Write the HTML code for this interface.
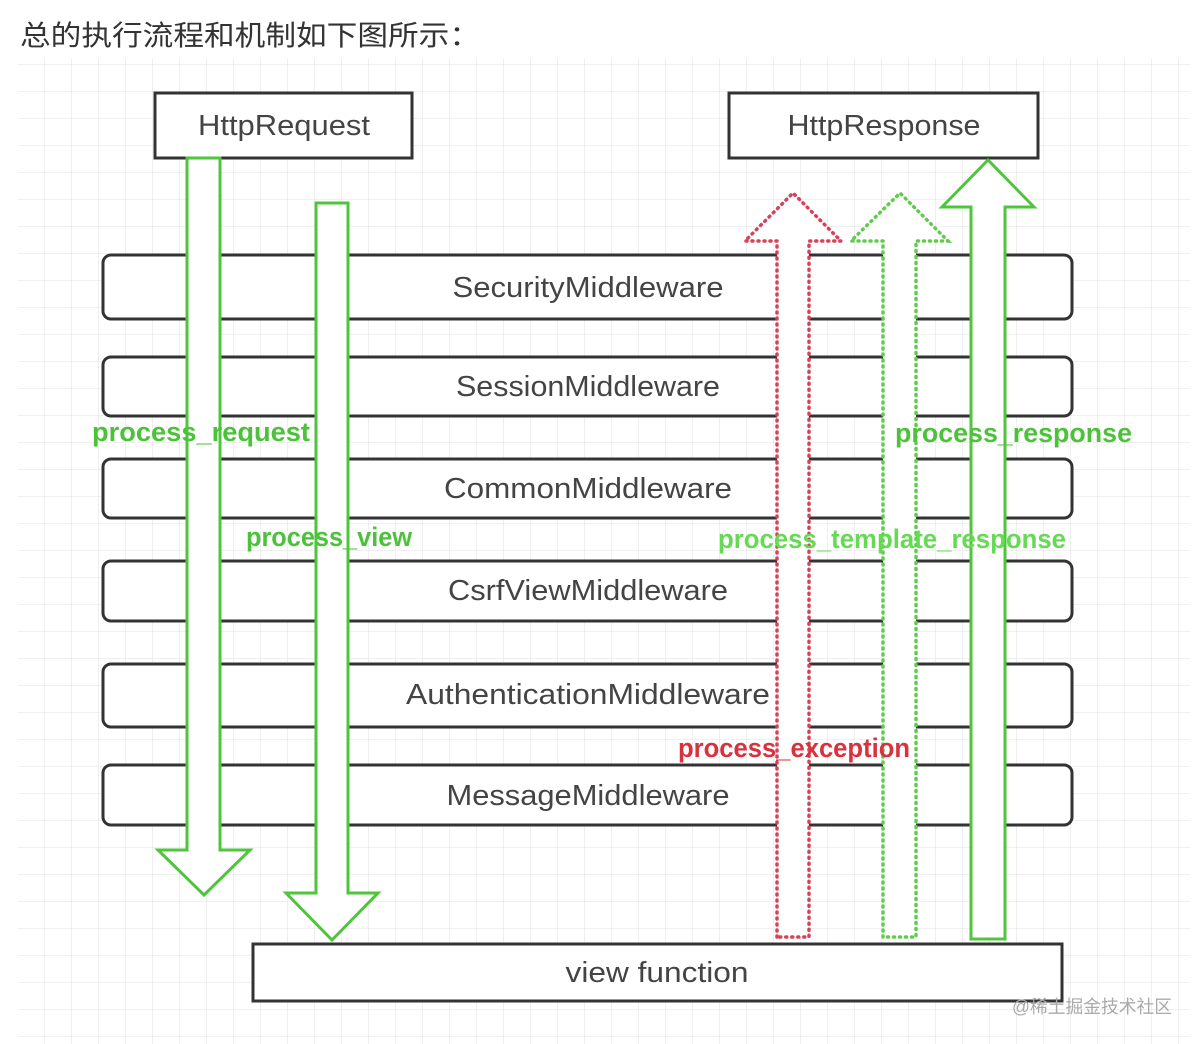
<!DOCTYPE html>
<html><head><meta charset="utf-8"><style>
html,body{margin:0;padding:0;background:#fff;width:1200px;height:1044px;overflow:hidden}
</style></head><body>
<svg width="1200" height="1044" xmlns="http://www.w3.org/2000/svg">
<defs>
<pattern id="g" x="18" y="11" width="27" height="27" patternUnits="userSpaceOnUse">
<path d="M27 0V27M0 27H27" fill="none" stroke="#e6e6e6" stroke-width="1.3"/>
</pattern>
</defs>
<rect x="18" y="58" width="1172" height="986" fill="url(#g)"/>
<text x="20" y="45" font-family="Liberation Sans, Noto Sans CJK SC, sans-serif" font-size="28" fill="#333" textLength="460" lengthAdjust="spacingAndGlyphs">总的执行流程和机制如下图所示：</text>

<g fill="#fff" stroke="#333" stroke-width="3">
<rect x="155" y="93" width="257" height="65"/>
<rect x="729" y="93" width="309" height="65"/>
<rect x="103" y="255" width="969" height="64" rx="8"/>
<rect x="103" y="357" width="969" height="59" rx="8"/>
<rect x="103" y="459" width="969" height="59" rx="8"/>
<rect x="103" y="561" width="969" height="60" rx="8"/>
<rect x="103" y="664" width="969" height="63" rx="8"/>
<rect x="103" y="765" width="969" height="60" rx="8"/>
<rect x="253" y="944" width="809" height="57"/>
</g>
<g font-family="Liberation Sans, sans-serif" font-size="29" fill="#444" text-anchor="middle" lengthAdjust="spacingAndGlyphs">
<text x="284" y="135" textLength="172" lengthAdjust="spacingAndGlyphs">HttpRequest</text>
<text x="884" y="135" textLength="193" lengthAdjust="spacingAndGlyphs">HttpResponse</text>
<text x="588" y="297" textLength="271" lengthAdjust="spacingAndGlyphs">SecurityMiddleware</text>
<text x="588" y="396" textLength="264" lengthAdjust="spacingAndGlyphs">SessionMiddleware</text>
<text x="588" y="498" textLength="288" lengthAdjust="spacingAndGlyphs">CommonMiddleware</text>
<text x="588" y="600" textLength="280" lengthAdjust="spacingAndGlyphs">CsrfViewMiddleware</text>
<text x="588" y="704" textLength="364" lengthAdjust="spacingAndGlyphs">AuthenticationMiddleware</text>
<text x="588" y="805" textLength="283" lengthAdjust="spacingAndGlyphs">MessageMiddleware</text>
<text x="657" y="982" textLength="183" lengthAdjust="spacingAndGlyphs">view function</text>
</g>

<g fill="#fff" stroke="#4ec53b" stroke-width="3" stroke-linejoin="miter">
<path d="M187 158V850H158L204 895L250 850H220V158Z"/>
<path d="M316 203V893H286L332 940L378 893H348V203Z"/>
<path d="M971 939V207H942L988 160L1034 207H1005V939Z"/>
</g>
<g fill="#fff" stroke-width="3.5" stroke-dasharray="1 5" stroke-linecap="round">
<path d="M777 937V241H745L793 193L841 241H809V937Z" stroke="#d9415a"/>
<path d="M883 937V241H851L900 193L948 241H916V937Z" stroke="#5fcc4c"/>
</g>

<g font-family="Liberation Sans, sans-serif" font-weight="bold" font-size="27">
<text x="92" y="441" fill="#4cc23a" textLength="218" lengthAdjust="spacingAndGlyphs">process_request</text>
<text x="246" y="546" fill="#4cc23a" textLength="166" lengthAdjust="spacingAndGlyphs">process_view</text>
<text x="895" y="442" fill="#4cc23a" textLength="237" lengthAdjust="spacingAndGlyphs">process_response</text>
<text x="718" y="548" fill="#66d955" textLength="348" lengthAdjust="spacingAndGlyphs">process_template_response</text>
<text x="678" y="757" fill="#d8323f" textLength="232" lengthAdjust="spacingAndGlyphs">process_exception</text>
</g>
<text x="1012" y="1013" font-family="Liberation Sans, Noto Sans CJK SC, sans-serif" font-size="18" fill="#aaa" textLength="160" lengthAdjust="spacingAndGlyphs">@稀土掘金技术社区</text>
</svg>
</body></html>
